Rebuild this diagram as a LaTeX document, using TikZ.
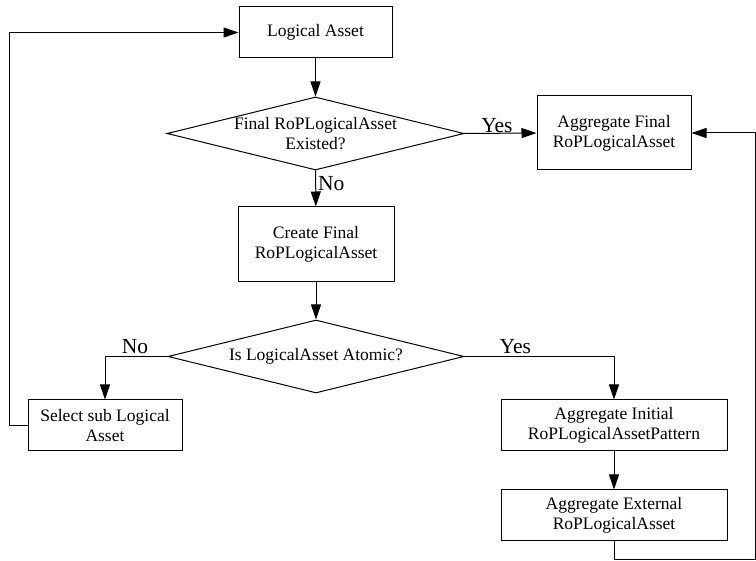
\documentclass[tikz,border=0pt]{standalone}
\usepackage{fontspec}
\setmainfont{Liberation Serif}
\usetikzlibrary{shapes.geometric,arrows.meta}

\tikzset{
  flowbox/.style={draw, line width=1pt, rectangle, align=center, inner sep=2pt},
  decision/.style={draw, line width=1pt, diamond, inner sep=0pt},
  branchlabel/.style={font=\fontsize{21.5}{24}\selectfont, inner sep=2pt},
  flowarrow/.style={line width=1pt, -{Triangle[length=15pt,width=10pt]}},
}

\begin{document}
\begin{tikzpicture}[x=1pt, y=-1pt, font=\fontsize{17.5}{20}\selectfont]
        % Fix the canvas
        \useasboundingbox (0,0) rectangle (756,561);

        % Main column
        \node[flowbox, minimum width=153pt, minimum height=51pt] (lasset) at (315.5,32.5) {Logical Asset};
        \node[decision, minimum width=297pt, minimum height=73pt,
              label={[align=center]center:Final RoPLogicalAsset\\Existed?}] (existed) at (315.5,133.5) {};
        \node[flowbox, minimum width=156pt, minimum height=75pt] (create) at (316,244.5) {Create Final\\RoPLogicalAsset};
        \node[decision, minimum width=296pt, minimum height=73pt,
              label={center:Is LogicalAsset Atomic?}] (atomic) at (316,356.5) {};

        % Side boxes
        \node[flowbox, minimum width=154pt, minimum height=74pt] (aggfinal) at (614,133) {Aggregate Final\\RoPLogicalAsset};
        \node[flowbox, minimum width=154pt, minimum height=51pt] (selsub) at (105,425.5) {Select sub Logical\\Asset};
        \node[flowbox, minimum width=226pt, minimum height=51pt] (agginit) at (614,425.5) {Aggregate Initial\\RoPLogicalAssetPattern};
        \node[flowbox, minimum width=226pt, minimum height=51pt] (aggext) at (614,515.5) {Aggregate External\\RoPLogicalAsset};

        % Loop corners
        \coordinate (leftc) at (9,425.5);
        \coordinate (bottomc) at (755.5,560);

        % Arrows down the middle
        \draw[flowarrow] (lasset) -- (existed);
        \draw[flowarrow] (existed) -- node[branchlabel, right, pos=0.35] {No} (create);
        \draw[flowarrow] (create) -- (atomic);

        % Branches
        \draw[flowarrow] (existed.east) -- node[branchlabel, above, pos=0.45, inner sep=0pt] {Yes} (aggfinal.west);
        \draw[flowarrow] (atomic.west) -| node[branchlabel, above, pos=0.26] {No} (selsub.north);
        \draw[flowarrow] (atomic.east) -| node[branchlabel, above, pos=0.17] {Yes} (agginit.north);
        \draw[flowarrow] (agginit) -- (aggext);

        % Feedback loops
        \draw[flowarrow] (selsub.west) -- (leftc) |- (lasset.west);
        \draw[flowarrow] (aggext.south) |- (bottomc) |- (aggfinal.east);
\end{tikzpicture}
\end{document}
